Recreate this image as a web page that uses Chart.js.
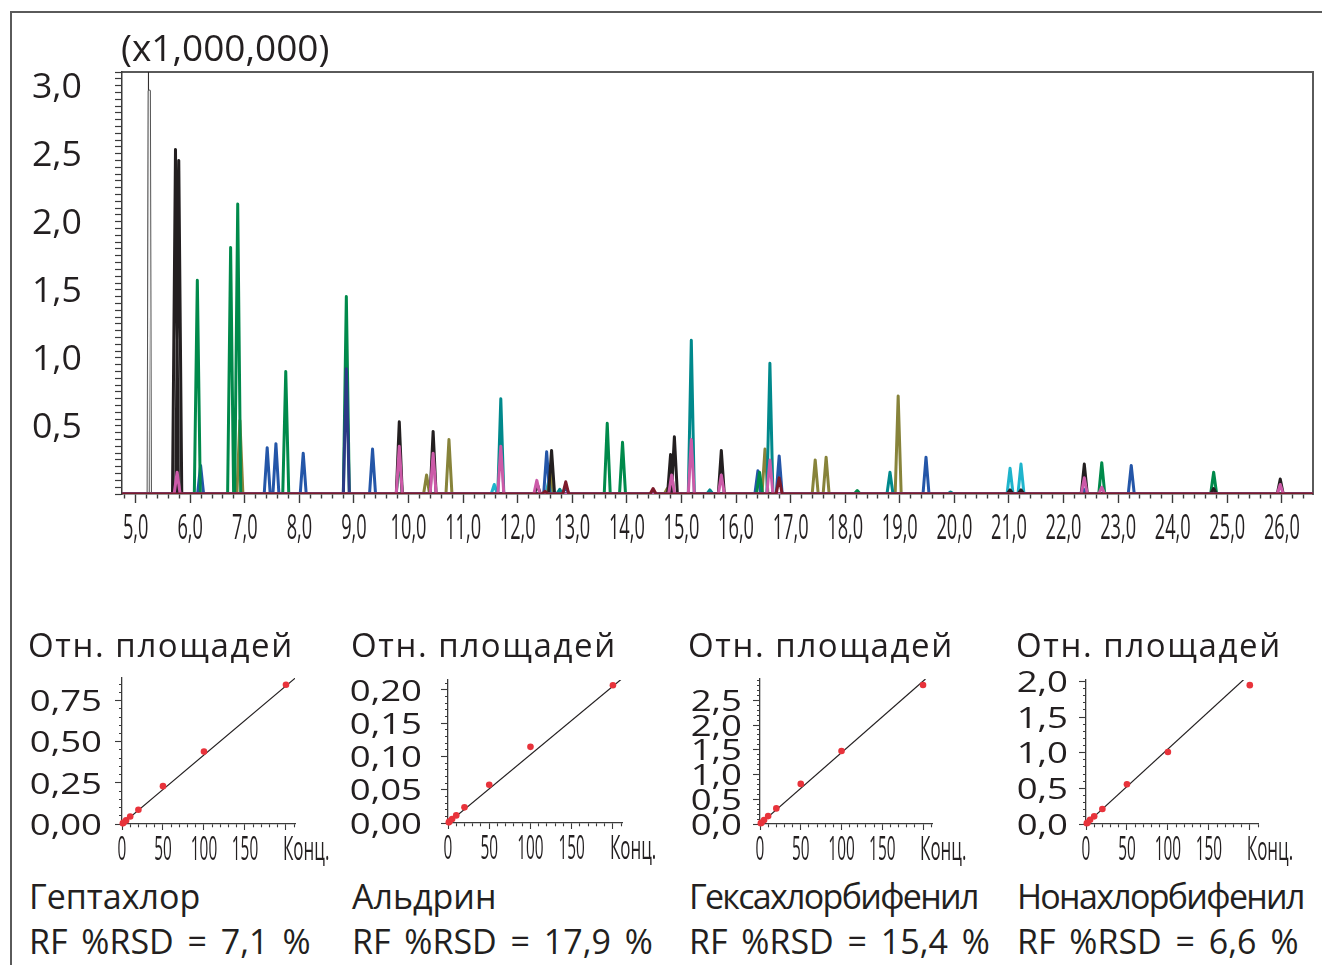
<!DOCTYPE html>
<html lang="ru">
<head>
<meta charset="utf-8">
<title>Хроматограмма и калибровочные кривые</title>
<script src="https://cdn.jsdelivr.net/npm/chart.js@4.4.1/dist/chart.umd.min.js"></script>
<style>
  html, body { margin: 0; padding: 0; background: #fff; }
  #page { position: relative; width: 1322px; height: 965px; overflow: hidden;
          font-family: "Open Sans", "Noto Sans", sans-serif; color: #231f20; }
  #frame { position: absolute; left: 10px; top: 11px; width: 1320px; height: 960px;
           border-top: 2px solid #5a5a5a; border-left: 2px solid #5a5a5a; }
  canvas { position: absolute; }
  .txt { position: absolute; line-height: 1; white-space: pre; }
  .t33 { font-size: 33px; top: 628px; letter-spacing: 1.6px; }
  .name { font-size: 34px; top: 879px; }
  .long { letter-spacing: -1.7px; }
  .rsd { font-size: 34px; top: 924px; word-spacing: 5px; }
</style>
</head>
<body>
<div id="page">
  <div id="frame"></div>
  <canvas id="chrom" width="1322" height="560" style="left:0;top:0"></canvas>
  <div class="txt" style="left:121px;top:28px;font-size:37px">(x1,000,000)</div>

  <canvas id="cal1" width="330" height="210" style="left:20px;top:660px"></canvas>
  <canvas id="cal2" width="330" height="210" style="left:345px;top:660px"></canvas>
  <canvas id="cal3" width="320" height="210" style="left:680px;top:660px"></canvas>
  <canvas id="cal4" width="312" height="210" style="left:1010px;top:660px"></canvas>

  <div class="txt t33" style="left:28px">Отн. площадей</div>
  <div class="txt t33" style="left:351px">Отн. площадей</div>
  <div class="txt t33" style="left:688px">Отн. площадей</div>
  <div class="txt t33" style="left:1016px">Отн. площадей</div>

  <div class="txt name" style="left:29px">Гептахлор</div>
  <div class="txt name" style="left:352px">Альдрин</div>
  <div class="txt name long" style="left:689px">Гексахлорбифенил</div>
  <div class="txt name long" style="left:1017px">Нонахлорбифенил</div>

  <div class="txt rsd" style="left:29px">RF %RSD = 7,1 %</div>
  <div class="txt rsd" style="left:352px">RF %RSD = 17,9 %</div>
  <div class="txt rsd" style="left:689px">RF %RSD = 15,4 %</div>
  <div class="txt rsd" style="left:1017px">RF %RSD = 6,6 %</div>
</div>

<script>
// Пики хроматограммы: [время удерживания, мин; высота, x1 000 000]
const solventPeaks = [[5.25, 2.96]];
const solventEdgePeaks = [[5.235, 3.3]];
const blackPeaks = [[5.73, 2.53], [5.79, 2.45], [9.83, 0.53], [10.45, 0.46], [12.36, 0.07], [12.62, 0.32],
    [14.80, 0.29], [14.87, 0.42], [15.73, 0.32], [21.02, 0.03], [21.22, 0.03], [22.38, 0.22], [24.75, 0.04], [25.97, 0.11]];
const greenPeaks = [[6.13, 1.57], [6.74, 1.81], [6.87, 2.13], [7.75, 0.90], [8.86, 1.45], [9.83, 0.27],
    [13.64, 0.52], [13.92, 0.38], [16.43, 0.16], [18.22, 0.025], [22.70, 0.23], [24.75, 0.16]];
const bluePeaks = [[6.19, 0.21], [7.41, 0.34], [7.57, 0.37], [8.07, 0.30], [9.34, 0.33], [12.53, 0.31],
    [12.88, 0.06], [16.40, 0.17], [16.79, 0.28], [19.48, 0.27], [22.36, 0.04], [23.24, 0.21]];
const olivePeaks = [[6.91, 0.54], [10.33, 0.14], [10.74, 0.40], [12.60, 0.16], [14.74, 0.04],
    [16.53, 0.33], [17.45, 0.25], [17.65, 0.27], [18.97, 0.72]];
const tealPeaks = [[11.69, 0.70], [12.77, 0.035], [15.18, 1.13], [15.52, 0.03], [16.62, 0.96], [18.82, 0.16], [19.93, 0.015]];
const pinkPeaks = [[5.76, 0.16], [9.83, 0.35], [10.45, 0.30], [11.69, 0.35], [12.35, 0.10], [14.82, 0.14],
    [15.18, 0.40], [15.73, 0.14], [16.62, 0.25], [22.38, 0.12], [22.70, 0.05], [25.97, 0.07]];
const redPeaks = [[12.50, 0.02], [12.88, 0.09], [14.48, 0.04], [16.79, 0.12]];
const cyanPeaks = [[11.57, 0.07], [12.57, 0.10], [21.02, 0.19], [21.22, 0.22]];
const navyPeaks = [[8.86, 0.92]];

// Калибровка: концентрации и отношения площадей
const calConc = [1, 2, 5, 10, 20, 50, 100, 200];
const heptachlorRatio = [0.004, 0.009, 0.022, 0.046, 0.087, 0.23, 0.44, 0.846];
const aldrinRatio = [0.001, 0.0025, 0.006, 0.0114, 0.0235, 0.0575, 0.1145, 0.207];
const hexachlorRatio = [0.015, 0.03, 0.08, 0.16, 0.315, 0.81, 1.474, 2.81];
const nonachlorRatio = [0.01, 0.02, 0.06, 0.107, 0.211, 0.558, 1.01, 1.948];
// Линии регрессии (начало и конец)
const heptachlorFit = [[0, 0], [211, 0.885]];
const aldrinFit = [[0, 0], [211, 0.217]];
const hexachlorFit = [[0, 0], [203, 2.93]];
const nonachlorFit = [[0, 0], [193, 2.03]];

const X_MIN = 4.75, X_MAX = 26.57;
const INK = '#231f20';

Chart.defaults.font.family = '"Open Sans", "Noto Sans", sans-serif';
Chart.defaults.color = INK;

function isMult(v, m) { return Math.abs(v / m - Math.round(v / m)) < 1e-6; }
function fmt(v, d) { return v.toFixed(d).replace('.', ','); }

// Каждый пик — треугольник: начало, вершина, конец
function peakTrace(peaks, halfBase) {
    const pts = [{ x: X_MIN, y: 0 }];
    peaks.slice().sort((a, b) => a[0] - b[0]).forEach(([t, h]) => {
        pts.push({ x: t - halfBase, y: 0 }, { x: t, y: h }, { x: t + halfBase, y: 0 });
    });
    pts.push({ x: X_MAX, y: 0 });
    return pts;
}

// Подписи делений рисуются сжатым/растянутым шрифтом
function tickText(conf) {
    return {
        id: 'tickText',
        afterDraw(chart) {
            const ctx = chart.ctx;
            Object.keys(conf).forEach(id => {
                const scale = chart.scales[id], o = conf[id];
                ctx.save();
                ctx.font = o.font;
                ctx.fillStyle = INK;
                ctx.textBaseline = 'alphabetic';
                scale.ticks.forEach(tick => {
                    if (!tick.label) return;
                    const p = scale.getPixelForValue(tick.value);
                    const word = !/\d/.test(tick.label);
                    let x, y;
                    if (scale.isHorizontal()) {
                        x = p + (word ? o.wordShift : 0);
                        y = scale.top + o.offset;
                        ctx.textAlign = word ? 'left' : 'center';
                    } else {
                        x = scale.right - o.offset;
                        y = p + o.shift;
                        ctx.textAlign = 'right';
                    }
                    ctx.save();
                    ctx.translate(x, y);
                    ctx.scale(word ? (o.wordStretch || o.stretch) : o.stretch, 1);
                    ctx.fillText(tick.label, 0, 0);
                    ctx.restore();
                });
                ctx.restore();
            });
        }
    };
}

const traces = [
    { peaks: redPeaks, color: '#7d1a2a' },
    { peaks: pinkPeaks, color: '#cc5aa8' },
    { peaks: navyPeaks, color: '#2b3a86' },
    { peaks: blackPeaks, color: INK },
    { peaks: tealPeaks, color: '#00898c' },
    { peaks: greenPeaks, color: '#008a4b' },
    { peaks: bluePeaks, color: '#2456a8' },
    { peaks: olivePeaks, color: '#87833a' },
    { peaks: cyanPeaks, color: '#1fb4cc' },
    { peaks: solventPeaks, color: '#f2f2f2', width: 1.2, half: 0.02 },
    { peaks: solventPeaks, color: '#555555', width: 3.2, half: 0.02 },
    { peaks: solventEdgePeaks, color: INK, width: 0.8, half: 0.015 }
];

new Chart(document.getElementById('chrom'), {
    type: 'line',
    data: {
        datasets: traces.map(tr => ({
            data: peakTrace(tr.peaks, tr.half || 0.055),
            borderColor: tr.color,
            borderWidth: tr.width || 3,
            borderJoinStyle: 'round',
            pointRadius: 0,
            fill: false,
            tension: 0
        }))
    },
    options: {
        responsive: false,
        animation: false,
        devicePixelRatio: 1,
        layout: { padding: { left: 122, top: 72, right: 9, bottom: 66 } },
        plugins: { legend: { display: false }, tooltip: { enabled: false } },
        scales: {
            x: {
                type: 'linear', min: X_MIN, max: X_MAX,
                afterFit: s => { s.height = 0; },
                border: { color: '#3a3a3a', width: 1.5 },
                grid: {
                    drawOnChartArea: false, tickLength: 9, tickColor: '#3a3a3a', tickWidth: 1.4,
                    tickBorderDash: c => (c.tick && isMult(c.tick.value, 1)) ? [] : [4, 40]
                },
                ticks: {
                    display: false, stepSize: 0.2, includeBounds: false,
                    callback: v => isMult(v, 1) ? fmt(v, 1) : ''
                }
            },
            xTop: {
                type: 'linear', position: 'top', min: X_MIN, max: X_MAX,
                afterFit: s => { s.height = 0; },
                border: { color: '#5a5a5a', width: 2 },
                grid: { display: false }, ticks: { display: false }
            },
            y: {
                min: 0, max: 3.1,
                afterFit: s => { s.width = 0; },
                border: { color: '#3a3a3a', width: 1.5 },
                grid: { drawOnChartArea: false, tickLength: 7, tickColor: '#3a3a3a', tickWidth: 1.2 },
                ticks: {
                    display: false, stepSize: 0.05, includeBounds: false,
                    callback: v => (v > 0 && isMult(v, 0.5)) ? fmt(v, 1) : ''
                }
            },
            yRight: {
                position: 'right', min: 0, max: 3.1,
                afterFit: s => { s.width = 0; },
                border: { color: '#5a5a5a', width: 2 },
                grid: { display: false }, ticks: { display: false }
            }
        }
    },
    plugins: [tickText({
        x: { font: '35px "Open Sans"', stretch: 0.52, offset: 45 },
        y: { font: '35px "Open Sans"', stretch: 1.02, offset: 40, shift: 12.5 }
    })]
});

function calibChart(id, c) {
    new Chart(document.getElementById(id), {
        type: 'scatter',
        data: {
            datasets: [{
                data: calConc.map((x, i) => ({ x: x, y: c.ratio[i] })),
                pointRadius: 3.3, pointBackgroundColor: '#e8333b', pointBorderWidth: 0, clip: false
            }, {
                data: c.fit.map(([x, y]) => ({ x: x, y: y })),
                showLine: true, borderColor: INK, borderWidth: 1.2, pointRadius: 0
            }]
        },
        options: {
            responsive: false,
            animation: false,
            devicePixelRatio: 1,
            layout: { padding: c.padding },
            plugins: { legend: { display: false }, tooltip: { enabled: false } },
            scales: {
                x: {
                    type: 'linear', min: 0, max: c.xMax,
                    afterFit: s => { s.height = 0; },
                    border: { color: '#3a3a3a', width: 1.3 },
                    grid: {
                        drawOnChartArea: false, tickLength: 6, tickColor: '#3a3a3a', tickWidth: 1.1,
                        tickBorderDash: t => (t.tick && isMult(t.tick.value, 50)) ? [] : [3, 40]
                    },
                    ticks: {
                        display: false, stepSize: 10, includeBounds: false,
                        callback: v => v === 200 ? 'Конц.' : (isMult(v, 50) ? String(v) : '')
                    }
                },
                y: {
                    type: 'linear', min: 0, max: c.yMax,
                    afterFit: s => { s.width = 0; },
                    border: { color: '#3a3a3a', width: 1.3 },
                    grid: {
                        drawOnChartArea: false, tickLength: 7, tickColor: '#3a3a3a', tickWidth: 1.1,
                        tickBorderDash: t => (t.tick && isMult(t.tick.value, c.yMajor)) ? [] : [0, 4, 3, 40]
                    },
                    ticks: {
                        display: false, stepSize: c.yStep, includeBounds: false,
                        callback: v => isMult(v, c.yMajor) ? fmt(v, c.decimals) : ''
                    }
                }
            }
        },
        plugins: [tickText({
            x: { font: '32px "Open Sans"', stretch: 0.48, wordStretch: 0.53, offset: 36, wordShift: -3 },
            y: { font: '30px "Open Sans"', stretch: 1.22, offset: c.gap, shift: 10.7 }
        })]
    });
}

calibChart('cal1', { ratio: heptachlorRatio, fit: heptachlorFit, xMax: 211, yMax: 0.887, yStep: 0.05, yMajor: 0.25,
    decimals: 2, gap: 20, padding: { left: 102, top: 18, right: 55, bottom: 46 } });
calibChart('cal2', { ratio: aldrinRatio, fit: aldrinFit, xMax: 211, yMax: 0.215, yStep: 0.01, yMajor: 0.05,
    decimals: 2, gap: 26, padding: { left: 103, top: 20, right: 53, bottom: 47 } });
calibChart('cal3', { ratio: hexachlorRatio, fit: hexachlorFit, xMax: 211, yMax: 2.93, yStep: 0.1, yMajor: 0.5,
    decimals: 1, gap: 18, padding: { left: 80, top: 19, right: 68, bottom: 46 } });
calibChart('cal4', { ratio: nonachlorRatio, fit: nonachlorFit, xMax: 210, yMax: 2.02, yStep: 0.1, yMajor: 0.5,
    decimals: 1, gap: 18, padding: { left: 76, top: 20, right: 64, bottom: 46 } });
</script>
</body>
</html>
